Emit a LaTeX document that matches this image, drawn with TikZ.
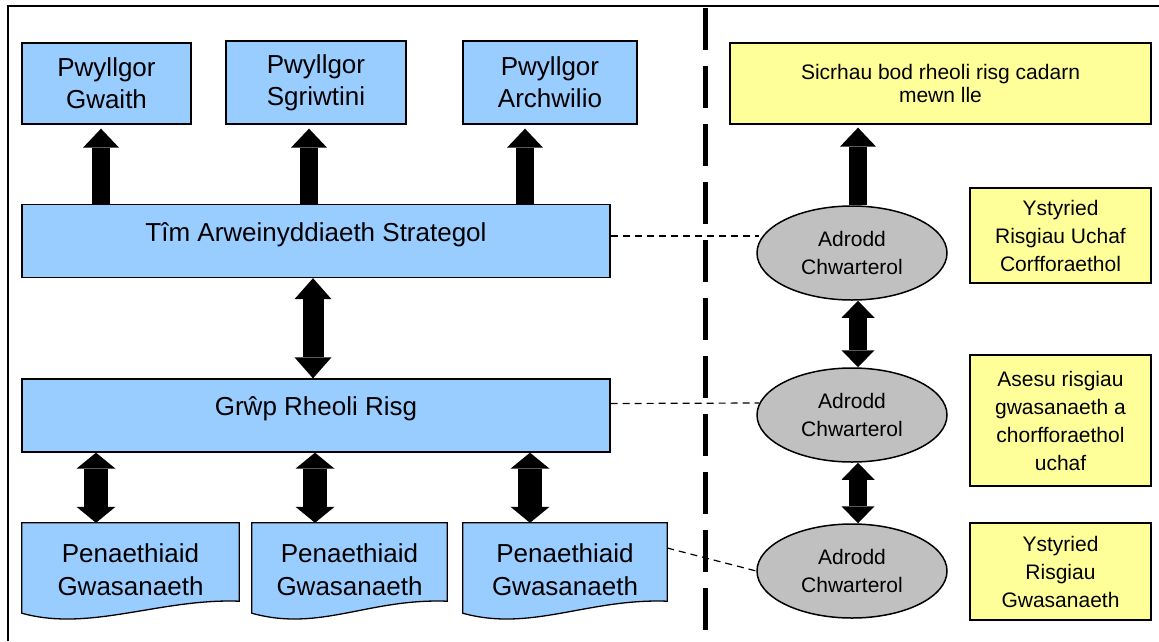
\documentclass[tikz,border=0pt]{standalone}
\usepackage{fontspec}
\setmainfont{Liberation Sans}
\usetikzlibrary{arrows.meta,shapes.geometric,backgrounds}
\definecolor{boxblue}{HTML}{99CCFF}
\definecolor{boxyellow}{HTML}{FFFF99}
\definecolor{ellgray}{HTML}{C0C0C0}

\begin{document}
\begin{tikzpicture}[x=1pt, y=-1pt,
    bluebox/.style={rectangle, draw, line width=1.3pt, fill=boxblue, inner sep=0pt, align=center, font=\fontsize{26}{32}\selectfont},
    widebox/.style={rectangle, draw, line width=1.3pt, fill=boxblue, inner sep=0pt, minimum width=588pt, minimum height=73pt, text height=19pt, text depth=19pt, font=\fontsize{26}{32}\selectfont},
    docbox/.style={rectangle, inner sep=0pt, minimum height=94pt, align=center, font=\fontsize{26}{33}\selectfont},
    docline/.style={draw, line width=1.3pt, fill=boxblue},
    yellowbox/.style={rectangle, draw, line width=1.3pt, fill=boxyellow, inner sep=0pt, align=center, font=\fontsize{21}{28}\selectfont},
    report/.style={ellipse, draw, line width=1.5pt, fill=ellgray, inner sep=0pt, minimum width=190pt, minimum height=94pt, align=center, font=\fontsize{21}{28}\selectfont},
    uparrow/.style={line width=18pt, -{Triangle[width=36pt,length=19pt,line width=0pt]}, shorten >=4pt},
    bigdouble/.style={line width=21pt, {Triangle[width=37pt,length=21pt,line width=0pt]}-{Triangle[width=37pt,length=21pt,line width=0pt]}},
    smalldouble/.style={line width=24pt, {Triangle[width=39pt,length=16pt,line width=0pt]}-{Triangle[width=39pt,length=16pt,line width=0pt]}},
    thindouble/.style={line width=18pt, {Triangle[width=33pt,length=17pt,line width=0pt]}-{Triangle[width=33pt,length=17pt,line width=0pt]}},
    link/.style={line width=1.2pt, dash pattern=on 7pt off 5pt}]
    \useasboundingbox (0,0) rectangle (1159,641);

    % 枠線と区切り線
    \draw[line width=1.8pt] (8,641) -- (8,6) -- (1159,6);
    \draw[line width=5pt, dash pattern=on 42pt off 16pt] (705,8) -- (705,641);

    % 左側のボックス
    \node[bluebox, minimum width=169pt, minimum height=81pt] (Gwaith) at (106.5,83.5) {Pwyllgor\\Gwaith};
    \node[bluebox, minimum width=180pt, minimum height=83pt] (Sgriwtini) at (316,82.5) {Pwyllgor\\Sgriwtini};
    \node[bluebox, minimum width=174pt, minimum height=83pt] (Archwilio) at (550,82.5) {Pwyllgor\\Archwilio};
    \node[widebox] (Tim) at (316,241) {Tîm Arweinyddiaeth Strategol};
    \node[widebox] (Grwp) at (316,415.5) {Grŵp Rheoli Risg};
    \node[docbox, minimum width=217pt] (P1) at (130.5,570) {Penaethiaid\\Gwasanaeth};
    \node[docbox, minimum width=195pt] (P2) at (349.5,570) {Penaethiaid\\Gwasanaeth};
    \node[docbox, minimum width=204pt] (P3) at (565,570) {Penaethiaid\\Gwasanaeth};

    % 書類の形（背景）
    \begin{scope}[on background layer]
      \foreach \p in {P1,P2,P3}
        \path[docline] (\p.north west) -- (\p.north east) -- ([yshift=16pt]\p.south east)
          .. controls +(-79,-3) and +(68,19) .. ([yshift=4pt]\p.south west) -- cycle;
    \end{scope}

    % 右側のノード
    \node[yellowbox, font=\fontsize{21}{23}\selectfont, minimum width=421pt, minimum height=81pt] (Goal) at (940.5,83.5) {Sicrhau bod rheoli risg cadarn\\mewn lle};
    \node[report] (R1) at (852,253) {Adrodd\\Chwarterol};
    \node[report] (R2) at (852,415) {Adrodd\\Chwarterol};
    \node[report] (R3) at (852,571) {Adrodd\\Chwarterol};
    \node[yellowbox, minimum width=181pt, minimum height=95pt] (Y1) at (1060.5,235.5) {Ystyried\\Risgiau Uchaf\\Corfforaethol};
    \node[yellowbox, minimum width=181pt, minimum height=131pt] (Y2) at (1060.5,420.5) {Asesu risgiau\\gwasanaeth a\\chorfforaethol\\uchaf};
    \node[yellowbox, minimum width=181pt, minimum height=97pt] (Y3) at (1060.5,571.5) {Ystyried\\Risgiau\\Gwasanaeth};

    % 矢印の位置
    \coordinate (xgw) at (101,0);
    \coordinate (xsg) at (309,0);
    \coordinate (xar) at (525,0);
    \coordinate (xtg) at (313,0);
    \coordinate (xp1) at (96,0);
    \coordinate (xp2) at (315,0);
    \coordinate (xp3) at (530,0);
    \coordinate (xrt) at (858,0);

    % 矢印
    \draw[uparrow] (Tim.north -| xgw) -- (Gwaith.south -| xgw);
    \draw[uparrow] (Tim.north -| xsg) -- (Sgriwtini.south -| xsg);
    \draw[uparrow] (Tim.north -| xar) -- (Archwilio.south -| xar);
    \draw[bigdouble] (Tim.south -| xtg) -- (Grwp.north -| xtg);
    \draw[smalldouble] (Grwp.south -| xp1) -- (P1.north -| xp1);
    \draw[smalldouble] (Grwp.south -| xp2) -- (P2.north -| xp2);
    \draw[smalldouble] (Grwp.south -| xp3) -- (P3.north -| xp3);
    \draw[uparrow, shorten >=3pt] (R1.north -| xrt) -- (Goal.south -| xrt);
    \draw[thindouble] (R1.south -| xrt) -- (R2.north -| xrt);
    \draw[thindouble] (R2.south -| xrt) -- (R3.north -| xrt);

    % 点線の接続
    \draw[link] ([yshift=5pt]Tim.east) -- ([xshift=3pt,yshift=17pt]R1.west);
    \draw[link] ([yshift=12pt]Grwp.east) -- ([xshift=3pt,yshift=12pt]R2.west);
    \draw[link] ([yshift=22pt]P3.east) -- (R3.west);
\end{tikzpicture}
\end{document}
